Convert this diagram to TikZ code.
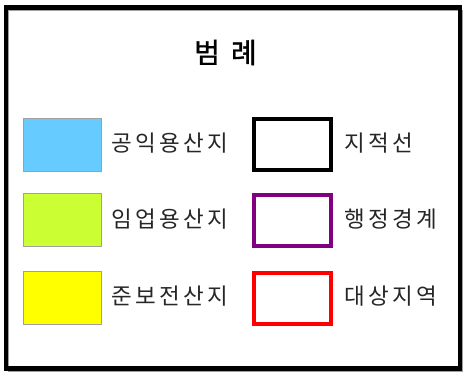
\documentclass[tikz,border=0pt]{standalone}
\usepackage{fontspec}
\newfontfamily\krttl{Noto Sans CJK KR}[FakeBold=1.2]
\newfontfamily\krsp{Noto Sans CJK KR}[LetterSpace=15]
\definecolor{pubblue}{HTML}{66CCFF}
\definecolor{forgreen}{HTML}{CCFF33}
\definecolor{semiyel}{HTML}{FFFF00}
\definecolor{admpurple}{HTML}{800080}
\definecolor{swgray}{HTML}{A0A0A0}
\tikzset{
  swatch/.style={draw=swgray, line width=1pt, minimum width=78pt, minimum height=53pt, inner sep=0pt},
  lineframe/.style={line width=4pt, minimum width=77pt, minimum height=51pt, inner sep=0pt, fill=white},
  lbl/.style={anchor=west, inner sep=0pt, font=\krsp\fontsize{22.5}{23}\selectfont, text=black!85},
  ttl/.style={inner sep=0pt, font=\krttl\fontsize{28}{28}\selectfont}
}
\begin{document}
\begin{tikzpicture}[x=1pt,y=-1pt]
\useasboundingbox (0,0) rectangle (463,372);
\fill[white] (0,0) rectangle (463,372);
\draw[swgray, line width=1pt] (8,10) rectangle (462,371);
\node[draw, line width=4.5pt, minimum width=454pt, minimum height=361pt, inner sep=0pt] (frame) at (232.75,187.75) {};
\node[ttl] (title) at (225.5,52.5) {범\hspace{11pt}례};
\node[swatch, fill=pubblue] (s1) at (62.5,145) {};
\node[swatch, fill=forgreen] (s2) at (62.5,220) {};
\node[swatch, fill=semiyel] (s3) at (62.5,297.5) {};
\node[lbl] (l1) at (111,143.5) {공익용산지};
\node[lbl] (l2) at (111,219) {임업용산지};
\node[lbl] (l3) at (111,296.5) {준보전산지};
\node[lineframe, draw=black] (f1) at (292.5,144.5) {};
\node[lineframe, draw=admpurple] (f2) at (292.5,220) {};
\node[lineframe, draw=red] (f3) at (292.5,298) {};
\node[lbl] (r1) at (344,143.5) {지적선};
\node[lbl] (r2) at (344,219) {행정경계};
\node[lbl] (r3) at (344,296.5) {대상지역};
\end{tikzpicture}
\end{document}
